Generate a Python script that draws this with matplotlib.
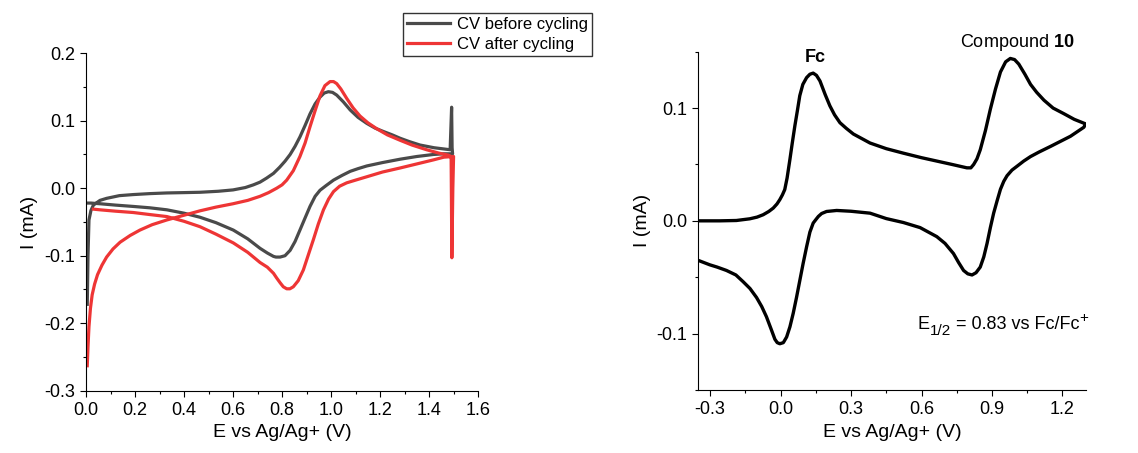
import matplotlib.pyplot as plt
from matplotlib.ticker import MultipleLocator, FormatStrFormatter
from matplotlib.transforms import offset_copy

# values (E in V, I in mA)
before_E = [0.005, 0.008, 0.012, 0.02, 0.03, 0.057, 0.084, 0.136, 0.193, 0.26, 0.33, 0.40, 0.465,
            0.54, 0.60, 0.65, 0.683, 0.71, 0.737, 0.765, 0.79, 0.812, 0.833, 0.853, 0.873, 0.894,
            0.914, 0.935, 0.955, 0.972, 0.989, 1.006, 1.023, 1.05, 1.078, 1.11, 1.146, 1.18, 1.214,
            1.25, 1.282, 1.32, 1.363, 1.42, 1.486, 1.492, 1.494, 1.496,
            1.46, 1.418, 1.35, 1.282, 1.21, 1.146, 1.11, 1.078, 1.045, 1.01, 0.98, 0.955, 0.935,
            0.914, 0.894, 0.873, 0.853, 0.833, 0.812, 0.792, 0.775, 0.765, 0.74, 0.71, 0.66, 0.601,
            0.53, 0.465, 0.40, 0.33, 0.26, 0.193, 0.12, 0.057, 0.02, 0.003]
before_I = [-0.172, -0.10, -0.047, -0.033, -0.025, -0.018, -0.015, -0.011, -0.0094, -0.008, -0.007,
            -0.0065, -0.006, -0.0045, -0.0025, 0.001, 0.005, 0.009, 0.015, 0.022, 0.031, 0.040,
            0.050, 0.062, 0.076, 0.093, 0.110, 0.125, 0.135, 0.141, 0.143, 0.142, 0.138, 0.128,
            0.116, 0.105, 0.096, 0.089, 0.084, 0.079, 0.074, 0.069, 0.064, 0.060, 0.057, 0.12,
            0.06, 0.051,
            0.051, 0.050, 0.047, 0.043, 0.038, 0.033, 0.029, 0.025, 0.019, 0.012, 0.004, -0.003,
            -0.012, -0.027, -0.044, -0.062, -0.079, -0.092, -0.100, -0.102, -0.102, -0.101, -0.096,
            -0.089, -0.075, -0.062, -0.051, -0.043, -0.037, -0.032, -0.029, -0.027, -0.025, -0.023,
            -0.022, -0.022]

after_E = [0.005, 0.008, 0.012, 0.018, 0.025, 0.035, 0.047, 0.065, 0.084, 0.11, 0.139, 0.18, 0.22,
           0.27, 0.33, 0.40, 0.465, 0.53, 0.60, 0.66, 0.71, 0.745, 0.778, 0.80, 0.819, 0.846,
           0.873, 0.894, 0.914, 0.935, 0.955, 0.975, 0.996, 1.01, 1.023, 1.04, 1.064, 1.09, 1.118,
           1.15, 1.187, 1.23, 1.282, 1.33, 1.39, 1.44, 1.479, 1.490, 1.493, 1.497, 1.50,
           1.46, 1.418, 1.35, 1.282, 1.21, 1.146, 1.10, 1.064, 1.035, 1.01, 0.99, 0.969, 0.948,
           0.928, 0.907, 0.887, 0.866, 0.846, 0.832, 0.819, 0.805, 0.792, 0.778, 0.765, 0.74, 0.71,
           0.66, 0.601, 0.53, 0.465, 0.40, 0.33, 0.26, 0.193, 0.12, 0.057, 0.03]
after_I = [-0.263, -0.235, -0.205, -0.178, -0.158, -0.142, -0.128, -0.114, -0.102, -0.090, -0.080,
           -0.070, -0.062, -0.054, -0.047, -0.040, -0.0335, -0.028, -0.023, -0.018, -0.012,
           -0.0065, 0.0, 0.005, 0.012, 0.026, 0.047, 0.067, 0.091, 0.115, 0.137, 0.152, 0.158,
           0.158, 0.155, 0.147, 0.133, 0.119, 0.107, 0.097, 0.088, 0.079, 0.071, 0.064, 0.057,
           0.052, 0.049, 0.047, -0.103, 0.0, 0.047,
           0.046, 0.042, 0.036, 0.030, 0.024, 0.017, 0.012, 0.008, 0.003, -0.005, -0.016, -0.032,
           -0.053, -0.076, -0.099, -0.121, -0.137, -0.146, -0.149, -0.149, -0.146, -0.140, -0.133,
           -0.126, -0.117, -0.110, -0.095, -0.081, -0.068, -0.057, -0.049, -0.042, -0.039, -0.036,
           -0.034, -0.032, -0.031]

cv_E = [-0.351, -0.259, -0.188, -0.131, -0.10, -0.074, -0.05, -0.031, -0.015, -0.003, 0.008, 0.018,
        0.028, 0.040, 0.050, 0.061, 0.072, 0.082, 0.095, 0.111, 0.125, 0.139, 0.153, 0.168, 0.19,
        0.210, 0.23, 0.253, 0.28, 0.310, 0.381, 0.45, 0.523, 0.60, 0.665, 0.73, 0.793, 0.81, 0.822,
        0.836, 0.850, 0.872, 0.893, 0.915, 0.936, 0.958, 0.978, 0.996, 1.014, 1.04, 1.064, 1.09,
        1.121, 1.16, 1.206, 1.25, 1.298,
        1.291, 1.234, 1.149, 1.10, 1.064, 1.035, 1.007, 0.985, 0.964, 0.95, 0.936, 0.922, 0.907,
        0.893, 0.879, 0.865, 0.850, 0.832, 0.815, 0.797, 0.779, 0.758, 0.736, 0.70, 0.665, 0.594,
        0.523, 0.45, 0.381, 0.30, 0.239, 0.196, 0.175, 0.161, 0.15, 0.139, 0.125, 0.111, 0.096,
        0.082, 0.068, 0.054, 0.040, 0.026, 0.012, -0.003, -0.014, -0.024, -0.04, -0.060, -0.08,
        -0.102, -0.13, -0.159, -0.19, -0.230, -0.27, -0.301, -0.351]
cv_I = [0.0, 0.0, 0.0003, 0.0018, 0.0033, 0.0054, 0.0083, 0.0113, 0.015, 0.0188, 0.023, 0.0277,
        0.038, 0.0545, 0.069, 0.0842, 0.098, 0.111, 0.121, 0.127, 0.130, 0.131, 0.129, 0.124,
        0.112, 0.102, 0.094, 0.087, 0.082, 0.077, 0.069, 0.064, 0.060, 0.056, 0.053, 0.050, 0.047,
        0.047, 0.050, 0.055, 0.063, 0.080, 0.099, 0.117, 0.132, 0.141, 0.144, 0.143, 0.139,
        0.130, 0.121, 0.114, 0.107, 0.100, 0.095, 0.090, 0.086,
        0.083, 0.075, 0.066, 0.061, 0.057, 0.053, 0.0485, 0.045, 0.040, 0.035, 0.028, 0.018,
        0.0068, -0.006, -0.020, -0.032, -0.041, -0.046, -0.048, -0.047, -0.044, -0.037, -0.029,
        -0.020, -0.014, -0.006, -0.0015, 0.002, 0.0068, 0.0085, 0.0092, 0.0083, 0.0065, 0.0039,
        0.001, -0.002, -0.010, -0.023, -0.038, -0.053, -0.068, -0.082, -0.094, -0.103, -0.108,
        -0.109, -0.108, -0.105, -0.096, -0.085, -0.076, -0.068, -0.060, -0.054, -0.048, -0.044,
        -0.041, -0.039, -0.035]

plt.rcParams['font.family'] = ['Liberation Sans', 'DejaVu Sans']
plt.rcParams['mathtext.fontset'] = 'custom'
plt.rcParams['mathtext.rm'] = 'Liberation Sans'
plt.rcParams['mathtext.bf'] = 'Liberation Sans:bold'
plt.rcParams['axes.unicode_minus'] = False

fig = plt.figure(figsize=(11.38, 4.53), dpi=100)
ax1 = fig.add_axes([0.0756, 0.1375, 0.3445, 0.745])
ax2 = fig.add_axes([0.6136, 0.1391, 0.3407, 0.7468])

# left: before / after cycling
ax1.plot(before_E, before_I, color='#4a4a4a', lw=2.3, solid_joinstyle='round', label='CV before cycling')
ax1.plot(after_E, after_I, color='#ee3535', lw=2.3, solid_joinstyle='round', label='CV after cycling')
ax1.set_xlim(0, 1.6)
ax1.set_ylim(-0.3, 0.2)
ax1.xaxis.set_major_locator(MultipleLocator(0.2))
ax1.xaxis.set_minor_locator(MultipleLocator(0.1))
ax1.yaxis.set_major_locator(MultipleLocator(0.1))
ax1.yaxis.set_minor_locator(MultipleLocator(0.05))
ax1.xaxis.set_major_formatter(FormatStrFormatter('%.1f'))
ax1.yaxis.set_major_formatter(FormatStrFormatter('%.1f'))
ax1.set_xlabel('E vs Ag/Ag+ (V)', fontsize=14)
ax1.set_ylabel('I (mA)', fontsize=14)
fig.legend(loc='upper left', bbox_to_anchor=(0.354, 0.971), bbox_transform=fig.transFigure,
           fontsize=12, frameon=True, fancybox=False, edgecolor='black', borderpad=0.25,
           labelspacing=0.3, handlelength=2.6, handletextpad=0.4, borderaxespad=0)

# right: Fc + compound 10
ax2.plot(cv_E, cv_I, color='black', lw=2.4, solid_joinstyle='round')
ax2.set_xlim(-0.35, 1.3)
ax2.set_ylim(-0.15, 0.15)
ax2.xaxis.set_major_locator(MultipleLocator(0.3))
ax2.xaxis.set_minor_locator(MultipleLocator(0.15))
ax2.yaxis.set_major_locator(MultipleLocator(0.1))
ax2.yaxis.set_minor_locator(MultipleLocator(0.05))
ax2.xaxis.set_major_formatter(FormatStrFormatter('%.1f'))
ax2.yaxis.set_major_formatter(FormatStrFormatter('%.1f'))
ax2.set_xlabel('E vs Ag/Ag+ (V)', fontsize=14)
ax2.set_ylabel('I (mA)', fontsize=14)
ax2.text(0.146, 0.145, 'Fc', fontsize=13, fontweight='bold', ha='center', va='center')
ax2.text(1.007, 0.158, r'Compound $\mathbf{10}$', fontsize=13, ha='center', va='center', clip_on=False)

for ax in (ax1, ax2):
    ax.spines['top'].set_visible(False)
    ax.spines['right'].set_visible(False)
    ax.tick_params(which='major', direction='out', length=4.5, width=0.8, labelsize=13)
    ax.tick_params(which='minor', direction='out', length=2.5, width=0.8)

# E1/2 label built from pieces so the sub/superscripts stay large
pieces = [('E', 13, 0), ('1/2', 11, -4.5), (' = 0.83 vs Fc/Fc', 13, 0), ('+', 11, 5)]
renderer = fig.canvas.get_renderer()
dx = 0.0
for s, size, dy in pieces:
    tr = offset_copy(ax2.transData, fig=fig, x=dx, y=dy, units='points')
    t = ax2.text(0.585, -0.096, s, fontsize=size, ha='left', va='baseline', transform=tr, clip_on=False)
    dx += t.get_window_extent(renderer).width * 72.0 / fig.dpi

fig.savefig('out.png', dpi=100)
